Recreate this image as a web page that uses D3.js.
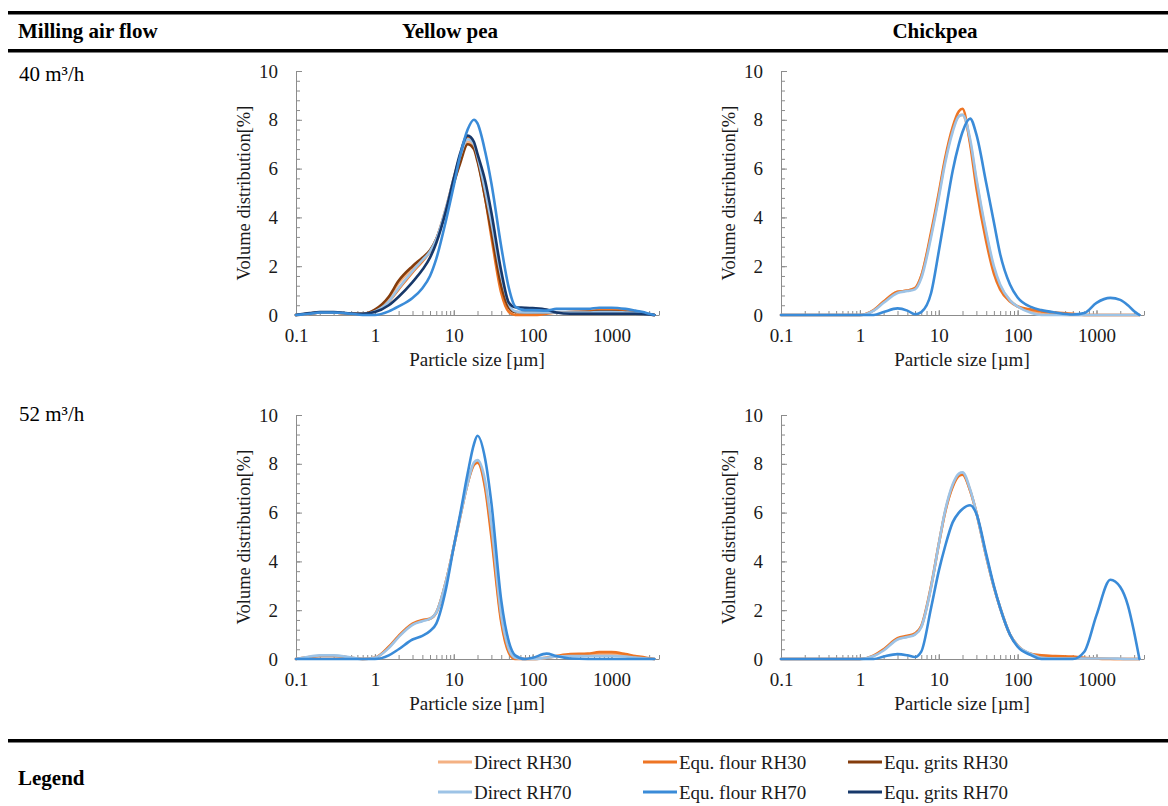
<!DOCTYPE html>
<html>
<head>
<meta charset="utf-8">
<script src="https://cdn.jsdelivr.net/npm/d3@7"></script>
<style>
  html, body { margin: 0; padding: 0; background: #fff; }
  svg { display: block; font-family: "Liberation Serif", "Times New Roman", serif; }
</style>
</head>
<body>
<svg id="chart" width="1168" height="806"></svg>
<script>
// ---------------- DATA ----------------
// particle size grid (µm)
const sizes = [0.1, 0.15, 0.2, 0.3, 0.5, 0.7, 1, 1.5, 2, 3, 4, 5, 6, 8, 10, 12, 15, 18, 20, 25, 30, 40, 50, 60, 80, 100, 150, 200, 300, 500, 700, 1000, 1500, 2000, 2500, 3000, 3500];

const seriesNames = ["Direct RH30", "Equ. flour RH30", "Equ. grits RH30", "Direct RH70", "Equ. flour RH70", "Equ. grits RH70"];
const rowLabels = ["40 m³/h", "52 m³/h"];
const columnLabels = ["Yellow pea", "Chickpea"];
const yTickValues = [0, 2, 4, 6, 8, 10];
const xTickLabels = [0.1, 1, 10, 100, 1000];

// Yellow pea, 40 m3/h
const yp40_directRH30 = [0, 0.05, 0.1, 0.1, 0.05, 0.05, 0.2, 0.7, 1.3, 1.9, 2.3, 2.6, 3.1, 4.3, 5.4, 6.3, 7.1, 6.9, 6.4, 4.9, 3.5, 1.3, 0.35, 0.12, 0.1, 0.1, 0.1, 0.1, 0.12, 0.15, 0.15, 0.15, 0.12, 0.1, 0.07, 0.03, 0];
const yp40_flourRH30  = [0, 0.05, 0.1, 0.1, 0.05, 0.03, 0.15, 0.55, 1.05, 1.75, 2.2, 2.6, 3.1, 4.4, 5.6, 6.5, 7.3, 7.0, 6.4, 4.8, 3.2, 0.9, 0.12, 0, 0, 0, 0.05, 0.1, 0.12, 0.15, 0.2, 0.2, 0.18, 0.12, 0.08, 0.03, 0];
const yp40_gritsRH30  = [0, 0.06, 0.1, 0.1, 0.05, 0.05, 0.22, 0.75, 1.4, 2.0, 2.35, 2.65, 3.1, 4.3, 5.4, 6.2, 7.0, 6.8, 6.3, 4.8, 3.4, 1.2, 0.3, 0.12, 0.1, 0.1, 0.1, 0.1, 0.1, 0.12, 0.15, 0.15, 0.12, 0.1, 0.06, 0.02, 0];
const yp40_directRH70 = [0, 0.05, 0.1, 0.1, 0.05, 0.04, 0.15, 0.55, 1.1, 1.8, 2.25, 2.6, 3.1, 4.4, 5.6, 6.5, 7.2, 7.0, 6.5, 5.1, 3.8, 1.6, 0.45, 0.15, 0.1, 0.1, 0.1, 0.1, 0.1, 0.1, 0.12, 0.12, 0.1, 0.08, 0.05, 0.02, 0];
const yp40_flourRH70  = [0, 0.05, 0.1, 0.1, 0.05, 0, 0, 0.15, 0.35, 0.7, 1.1, 1.6, 2.3, 3.9, 5.3, 6.5, 7.6, 8.0, 7.85, 6.7, 5.4, 2.8, 1.1, 0.35, 0.2, 0.2, 0.18, 0.25, 0.25, 0.25, 0.3, 0.3, 0.25, 0.18, 0.12, 0.05, 0];
const yp40_gritsRH70  = [0, 0.08, 0.12, 0.12, 0.06, 0.05, 0.12, 0.4, 0.75, 1.35, 1.85, 2.35, 2.95, 4.3, 5.6, 6.6, 7.35, 7.1, 6.6, 5.5, 4.2, 1.8, 0.5, 0.32, 0.3, 0.28, 0.22, 0.1, 0.05, 0.05, 0.05, 0.05, 0.05, 0.05, 0.04, 0.02, 0];

// Chickpea, 40 m3/h
const cp40_directRH30 = [0, 0, 0, 0, 0, 0, 0, 0.2, 0.55, 0.95, 1.0, 1.1, 1.6, 3.3, 4.9, 6.3, 7.6, 8.15, 8.2, 7.1, 5.5, 3.3, 1.9, 1.2, 0.6, 0.35, 0.15, 0.05, 0.02, 0, 0, 0, 0, 0, 0, 0, 0];
const cp40_flourRH30  = [0, 0, 0, 0, 0, 0, 0, 0.2, 0.55, 0.95, 1.0, 1.1, 1.6, 3.4, 5.0, 6.4, 7.7, 8.35, 8.45, 7.0, 5.2, 3.0, 1.7, 1.05, 0.55, 0.35, 0.22, 0.15, 0.1, 0.05, 0, 0, 0, 0, 0, 0, 0];
const cp40_directRH70 = [0, 0, 0, 0, 0, 0, 0, 0.18, 0.5, 0.9, 0.98, 1.05, 1.5, 3.2, 4.8, 6.2, 7.5, 8.15, 8.2, 7.2, 5.6, 3.4, 2.0, 1.25, 0.6, 0.35, 0.08, 0, 0, 0, 0, 0, 0, 0, 0, 0, 0];
const cp40_flourRH70  = [0, 0, 0, 0, 0, 0, 0, 0, 0.12, 0.27, 0.18, 0.03, 0.12, 0.9, 2.6, 4.1, 5.9, 7.0, 7.5, 8.05, 7.4, 5.4, 3.8, 2.5, 1.25, 0.72, 0.32, 0.2, 0.1, 0.02, 0.08, 0.5, 0.7, 0.62, 0.4, 0.15, 0];

// Yellow pea, 52 m3/h
const yp52_directRH30 = [0, 0.08, 0.12, 0.12, 0.05, 0, 0.05, 0.48, 0.92, 1.42, 1.58, 1.65, 1.9, 3.2, 4.6, 5.8, 7.2, 8.0, 8.1, 7.1, 5.2, 1.6, 0.3, 0.02, 0, 0, 0.05, 0.1, 0.15, 0.18, 0.2, 0.2, 0.15, 0.1, 0.05, 0.02, 0];
const yp52_flourRH30  = [0, 0.08, 0.12, 0.12, 0.05, 0, 0.05, 0.5, 0.95, 1.45, 1.6, 1.65, 1.9, 3.2, 4.6, 5.8, 7.2, 7.95, 8.05, 7.0, 5.0, 1.5, 0.25, 0, 0, 0, 0.05, 0.12, 0.2, 0.22, 0.28, 0.28, 0.2, 0.12, 0.08, 0.03, 0];
const yp52_directRH70 = [0, 0.1, 0.15, 0.15, 0.06, 0, 0.05, 0.45, 0.9, 1.4, 1.55, 1.65, 1.9, 3.2, 4.6, 5.8, 7.2, 8.05, 8.15, 7.3, 5.5, 1.8, 0.4, 0.05, 0, 0, 0.05, 0.1, 0.12, 0.12, 0.12, 0.12, 0.1, 0.06, 0.03, 0.01, 0];
const yp52_flourRH70  = [0, 0, 0, 0, 0, 0, 0, 0.15, 0.4, 0.8, 0.95, 1.15, 1.45, 2.9, 4.6, 5.9, 7.6, 8.8, 9.15, 8.2, 6.4, 2.4, 0.7, 0.15, 0, 0.05, 0.22, 0.12, 0.02, 0, 0, 0, 0, 0, 0, 0, 0];

// Chickpea, 52 m3/h
const cp52_directRH30 = [0, 0, 0, 0, 0, 0, 0, 0.13, 0.38, 0.82, 0.92, 1.02, 1.32, 2.95, 4.7, 6.0, 7.1, 7.55, 7.6, 6.9, 6.0, 4.2, 2.95, 2.1, 1.0, 0.55, 0.2, 0.1, 0.06, 0.04, 0.03, 0.02, 0.01, 0, 0, 0, 0];
const cp52_flourRH30  = [0, 0, 0, 0, 0, 0, 0, 0.15, 0.4, 0.85, 0.95, 1.05, 1.35, 3.0, 4.7, 6.0, 7.05, 7.5, 7.55, 6.9, 6.0, 4.2, 2.95, 2.1, 1.0, 0.55, 0.2, 0.15, 0.12, 0.1, 0.05, 0.02, 0, 0, 0, 0, 0];
const cp52_directRH70 = [0, 0, 0, 0, 0, 0, 0, 0.12, 0.35, 0.8, 0.9, 1.0, 1.3, 2.95, 4.7, 6.05, 7.15, 7.6, 7.65, 6.95, 6.0, 4.2, 2.95, 2.1, 1.0, 0.55, 0.2, 0.05, 0.02, 0.02, 0.02, 0.02, 0.02, 0.01, 0, 0, 0];
const cp52_flourRH70  = [0, 0, 0, 0, 0, 0, 0, 0, 0.1, 0.2, 0.15, 0.08, 0.3, 2.1, 3.6, 4.6, 5.6, 6.0, 6.15, 6.3, 5.95, 4.3, 3.0, 2.1, 1.0, 0.5, 0.15, 0, 0, 0, 0.3, 1.8, 3.25, 2.95, 2.2, 1.1, 0];

// ---------------- STYLE ----------------
const seriesColors = {
  "Direct RH30": "#F4B183",
  "Equ. flour RH30": "#EE7524",
  "Equ. grits RH30": "#843C0C",
  "Direct RH70": "#9DC3E6",
  "Equ. flour RH70": "#3A8BD8",
  "Equ. grits RH70": "#17386A"
};
const drawOrder = ["Direct RH30", "Equ. flour RH30", "Equ. grits RH30", "Direct RH70", "Equ. grits RH70", "Equ. flour RH70"];

const panels = [
  { row: 0, col: 0, series: { "Direct RH30": yp40_directRH30, "Equ. flour RH30": yp40_flourRH30, "Equ. grits RH30": yp40_gritsRH30, "Direct RH70": yp40_directRH70, "Equ. flour RH70": yp40_flourRH70, "Equ. grits RH70": yp40_gritsRH70 } },
  { row: 0, col: 1, series: { "Direct RH30": cp40_directRH30, "Equ. flour RH30": cp40_flourRH30, "Direct RH70": cp40_directRH70, "Equ. flour RH70": cp40_flourRH70 } },
  { row: 1, col: 0, series: { "Direct RH30": yp52_directRH30, "Equ. flour RH30": yp52_flourRH30, "Direct RH70": yp52_directRH70, "Equ. flour RH70": yp52_flourRH70 } },
  { row: 1, col: 1, series: { "Direct RH30": cp52_directRH30, "Equ. flour RH30": cp52_flourRH30, "Direct RH70": cp52_directRH70, "Equ. flour RH70": cp52_flourRH70 } }
];

// ---------------- LAYOUT ----------------
const svg = d3.select("#chart");
const W = 1168;
const colX = [296, 781];
const plotW = 363;
const rowTop = [71, 415];
const plotH = 244;
const textColor = "#1a1a1a";
const axisColor = "#8c8c8c";

// table rules
function rule(y, h) {
  svg.append("rect").attr("x", 8).attr("y", y).attr("width", W - 8).attr("height", h).attr("fill", "#000");
}
rule(11, 3.5);
rule(49, 3.5);
rule(739, 3.5);

// header
svg.append("text").attr("x", 18).attr("y", 38).attr("font-size", 21).attr("font-weight", "bold").attr("fill", "#000").text("Milling air flow");
const headerCenters = [450, 935];
columnLabels.forEach((t, i) => {
  svg.append("text").attr("x", headerCenters[i]).attr("y", 38).attr("text-anchor", "middle")
    .attr("font-size", 21).attr("font-weight", "bold").attr("fill", "#000").text(t);
});
const rowLabelY = [81, 421];
rowLabels.forEach((t, i) => {
  svg.append("text").attr("x", 19).attr("y", rowLabelY[i]).attr("font-size", 21).attr("fill", "#000").text(t);
});

// minor tick values for log axis
const logTicks = [];
[0.1, 1, 10, 100, 1000].forEach(d => {
  for (let k = 1; k <= 9; k++) {
    const v = +(d * k).toPrecision(3);
    if (v <= 4000) logTicks.push(v);
  }
});
logTicks.push(4000);
const yMinor = d3.range(0, 10.0001, 0.4).map(v => +v.toFixed(2));

panels.forEach(p => {
  const x0 = colX[p.col], y0 = rowTop[p.row];
  const x = d3.scaleLog().domain([0.1, 4000]).range([x0, x0 + plotW]);
  const y = d3.scaleLinear().domain([0, 10]).range([y0 + plotH, y0]);
  const g = svg.append("g");

  // y axis minor ticks
  g.append("g").attr("transform", `translate(${x0},0)`)
    .call(d3.axisLeft(y).tickValues(yMinor).tickSize(-4).tickFormat(""))
    .call(a => a.selectAll("line").attr("stroke", axisColor))
    .call(a => a.select(".domain").attr("stroke", axisColor));
  // y axis major ticks + labels
  g.append("g").attr("transform", `translate(${x0},0)`)
    .call(d3.axisLeft(y).tickValues(yTickValues).tickSizeInner(-6).tickSizeOuter(0).tickPadding(18).tickFormat(d3.format("d")))
    .call(a => a.select(".domain").remove())
    .call(a => a.selectAll("line").attr("stroke", axisColor))
    .call(a => a.selectAll("text").attr("font-size", 19).attr("fill", textColor).attr("font-family", "Liberation Serif, serif"));

  // x axis minor ticks
  g.append("g").attr("transform", `translate(0,${y0 + plotH})`)
    .call(d3.axisBottom(x).tickValues(logTicks).tickSizeInner(-4).tickSizeOuter(0).tickFormat(""))
    .call(a => a.selectAll("line").attr("stroke", axisColor))
    .call(a => a.select(".domain").attr("stroke", axisColor));
  // x axis labels
  g.append("g").attr("transform", `translate(0,${y0 + plotH})`)
    .call(d3.axisBottom(x).tickValues(xTickLabels).tickSizeInner(-5).tickSizeOuter(0).tickPadding(14).tickFormat(d => d < 1 ? String(d) : d3.format("d")(d)))
    .call(a => a.select(".domain").remove())
    .call(a => a.selectAll("line").attr("stroke", axisColor))
    .call(a => a.selectAll("text").attr("font-size", 19).attr("fill", textColor).attr("font-family", "Liberation Serif, serif"));

  // axis titles
  g.append("text").attr("x", x0 + 181).attr("y", y0 + plotH + 51).attr("text-anchor", "middle")
    .attr("font-size", 19).attr("fill", textColor).text("Particle size [µm]");
  g.append("text").attr("transform", `translate(${x0 - 46},${y0 + plotH / 2}) rotate(-90)`)
    .attr("text-anchor", "middle").attr("font-size", 18.5).attr("fill", textColor).text("Volume distribution[%]");

  // lines
  const line = d3.line().x(d => x(d[0])).y(d => y(d[1])).curve(d3.curveMonotoneX);
  drawOrder.forEach(name => {
    const vals = p.series[name];
    if (!vals) return;
    const pts = sizes.map((s, i) => [s, vals[i]]);
    g.append("path").datum(pts).attr("d", line).attr("fill", "none")
      .attr("stroke", seriesColors[name]).attr("stroke-width", 2.6)
      .attr("stroke-linejoin", "round").attr("stroke-linecap", "round");
  });
});

// legend
svg.append("text").attr("x", 18).attr("y", 785).attr("font-size", 21).attr("font-weight", "bold").attr("fill", "#000").text("Legend");
const legendCols = [438, 643, 848];
const legendRows = [762, 792];
const legendOrder = [["Direct RH30", "Equ. flour RH30", "Equ. grits RH30"], ["Direct RH70", "Equ. flour RH70", "Equ. grits RH70"]];
legendOrder.forEach((row, ri) => {
  row.forEach((name, ci) => {
    const lx = legendCols[ci], ly = legendRows[ri];
    svg.append("line").attr("x1", lx).attr("x2", lx + 34).attr("y1", ly).attr("y2", ly)
      .attr("stroke", seriesColors[name]).attr("stroke-width", 3);
    svg.append("text").attr("x", lx + 36).attr("y", ly + 6.5).attr("font-size", 19).attr("fill", textColor).text(name);
  });
});
</script>
</body>
</html>
